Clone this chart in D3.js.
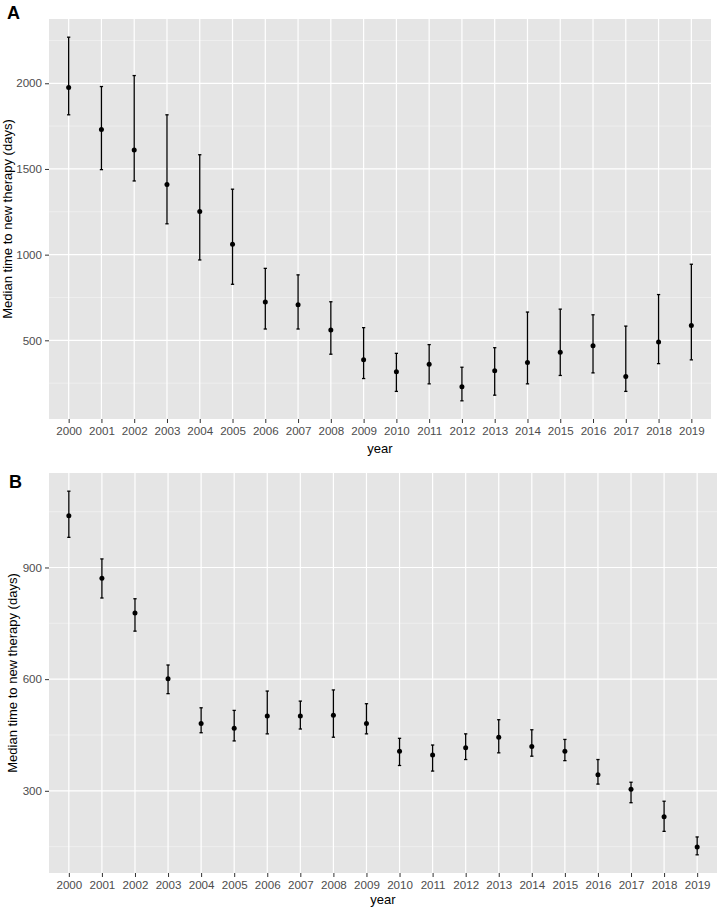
<!DOCTYPE html>
<html>
<head>
<meta charset="utf-8">
<script src="https://cdn.jsdelivr.net/npm/d3@7"></script>
<style>
  html, body { margin: 0; padding: 0; background: #fff; }
  text { font-family: "Liberation Sans", Arial, sans-serif; }
</style>
</head>
<body>
<svg id="chart" width="717" height="909"></svg>
<script>
const years = ["2000","2001","2002","2003","2004","2005","2006","2007","2008","2009",
               "2010","2011","2012","2013","2014","2015","2016","2017","2018","2019"];

// Panel A
const medianA = [1975,1731,1610,1409,1252,1060,723,707,560,386,316,360,229,322,370,430,469,289,490,587];
const lowerA  = [1816,1496,1430,1180,969,827,566,566,419,277,202,246,147,180,246,295,310,202,364,386];
const upperA  = [2269,1981,2045,1816,1583,1382,920,882,725,574,424,475,343,457,665,682,649,583,767,944];
const ticksA  = [500,1000,1500,2000];
const minorA  = [250,750,1250,1750,2250];

// Panel B
const medianB = [1039,871,778,601,481,468,501,501,503,481,406,396,416,444,419,406,343,304,230,149];
const lowerB  = [981,818,729,561,456,434,453,466,444,453,368,353,384,402,393,381,318,268,191,128];
const upperB  = [1105,923,816,638,523,516,568,541,571,534,441,423,453,491,464,438,384,323,272,176];
const ticksB  = [300,600,900];
const minorB  = [150,450,750,1050];

const yTitle = "Median time to new therapy (days)";
const xTitle = "year";

const svg = d3.select("#chart");

function panel(opts) {
  const {left, right, top, bottom, median, lower, upper, ticks, minor, letter, letterX, letterY, yTitleX, xTitleDY} = opts;
  const x = d3.scalePoint().domain(years).range([left, right]).padding(0.6);
  const lo = d3.min(lower), hi = d3.max(upper), ex = (hi - lo) * 0.05;
  const y = d3.scaleLinear().domain([lo - ex, hi + ex]).range([bottom, top]);
  const g = svg.append("g");

  g.append("rect").attr("x", left).attr("y", top)
    .attr("width", right - left).attr("height", bottom - top)
    .attr("fill", "#e5e5e5");

  // minor gridlines
  g.selectAll(".minor").data(minor).join("line")
    .attr("x1", left).attr("x2", right)
    .attr("y1", d => y(d)).attr("y2", d => y(d))
    .attr("stroke", "#f5f5f5").attr("stroke-width", 0.6);
  // major gridlines
  g.selectAll(".majorY").data(ticks).join("line")
    .attr("x1", left).attr("x2", right)
    .attr("y1", d => y(d)).attr("y2", d => y(d))
    .attr("stroke", "#ffffff").attr("stroke-width", 1.2);
  g.selectAll(".majorX").data(years).join("line")
    .attr("x1", d => x(d)).attr("x2", d => x(d))
    .attr("y1", top).attr("y2", bottom)
    .attr("stroke", "#ffffff").attr("stroke-width", 1.2);

  // axes
  const yAxis = g.append("g").attr("transform", `translate(${left},0)`)
    .call(d3.axisLeft(y).tickValues(ticks).tickSize(4).tickPadding(3).tickFormat(d3.format("d")));
  const xAxis = g.append("g").attr("transform", `translate(0,${bottom})`)
    .call(d3.axisBottom(x).tickSize(4).tickPadding(4));
  [yAxis, xAxis].forEach(a => {
    a.select(".domain").remove();
    a.selectAll(".tick line").attr("stroke", "#333333").attr("stroke-width", 1);
    a.selectAll(".tick text").attr("fill", "#4d4d4d").attr("font-size", "11.6px")
      .attr("font-family", '"Liberation Sans", Arial, sans-serif');
  });

  // error bars
  const idx = d3.range(years.length);
  const capW = x.step() * 0.1;
  g.selectAll(".eb").data(idx).join("line")
    .attr("x1", i => x(years[i])).attr("x2", i => x(years[i]))
    .attr("y1", i => y(lower[i])).attr("y2", i => y(upper[i]))
    .attr("stroke", "#000").attr("stroke-width", 1.3);
  g.selectAll(".capT").data(idx).join("line")
    .attr("x1", i => x(years[i]) - capW / 2).attr("x2", i => x(years[i]) + capW / 2)
    .attr("y1", i => y(upper[i])).attr("y2", i => y(upper[i]))
    .attr("stroke", "#000").attr("stroke-width", 1.3);
  g.selectAll(".capB").data(idx).join("line")
    .attr("x1", i => x(years[i]) - capW / 2).attr("x2", i => x(years[i]) + capW / 2)
    .attr("y1", i => y(lower[i])).attr("y2", i => y(lower[i]))
    .attr("stroke", "#000").attr("stroke-width", 1.3);
  g.selectAll(".pt").data(idx).join("circle")
    .attr("cx", i => x(years[i])).attr("cy", i => y(median[i]))
    .attr("r", 2.5).attr("fill", "#000");

  // titles
  g.append("text")
    .attr("x", (left + right) / 2).attr("y", bottom + xTitleDY)
    .attr("text-anchor", "middle").attr("font-size", "13px").attr("fill", "#000")
    .text(xTitle);
  g.append("text")
    .attr("transform", `translate(${yTitleX},${(top + bottom) / 2}) rotate(-90)`)
    .attr("text-anchor", "middle").attr("font-size", "13px").attr("fill", "#000")
    .text(yTitle);
  g.append("text")
    .attr("x", letterX).attr("y", letterY)
    .attr("font-size", "18px").attr("font-weight", "bold").attr("fill", "#000")
    .text(letter);
}

panel({left: 49, right: 711, top: 19, bottom: 419,
       median: medianA, lower: lowerA, upper: upperA, ticks: ticksA, minor: minorA,
       letter: "A", letterX: 7, letterY: 19, yTitleX: 12, xTitleDY: 34});
panel({left: 49, right: 717, top: 473, bottom: 873,
       median: medianB, lower: lowerB, upper: upperB, ticks: ticksB, minor: minorB,
       letter: "B", letterX: 9, letterY: 488, yTitleX: 17, xTitleDY: 31});
</script>
</body>
</html>
